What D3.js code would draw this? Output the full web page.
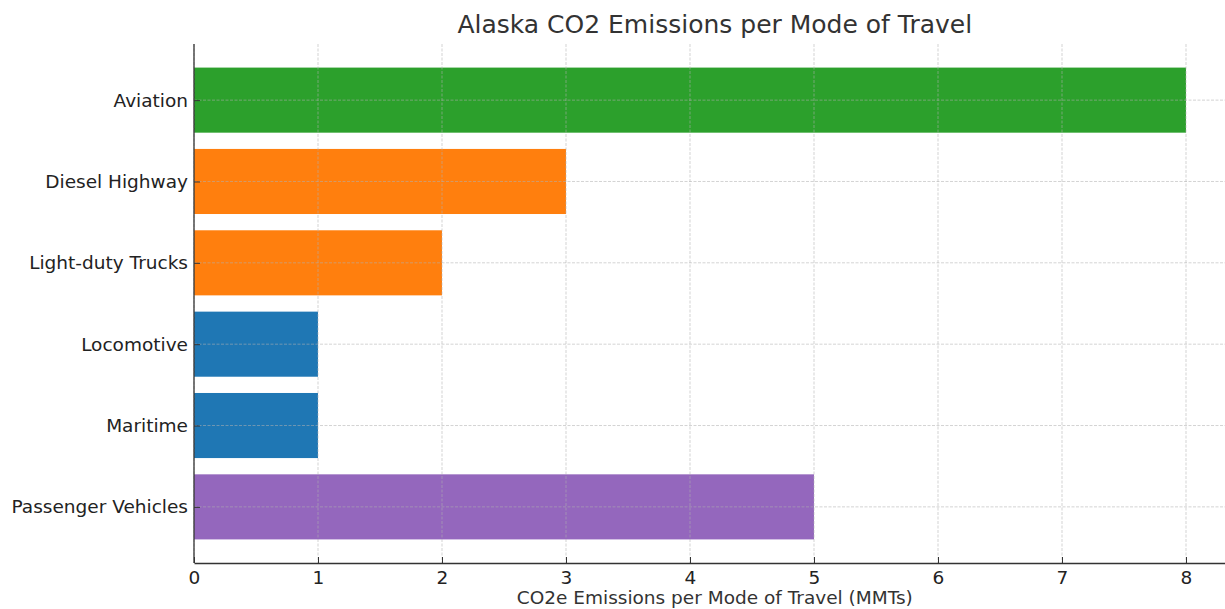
<!DOCTYPE html>
<html>
<head>
<meta charset="utf-8">
<script src="https://cdn.jsdelivr.net/npm/d3@7"></script>
<style>
  html, body { margin: 0; padding: 0; background: #fff; }
  svg { display: block; font-family: "DejaVu Sans", sans-serif; }
</style>
</head>
<body>
<svg id="chart" width="1225" height="609"></svg>
<script>
// Travel modes (top to bottom) and their CO2e emissions in MMTs
const modes = ["Aviation", "Diesel Highway", "Light-duty Trucks", "Locomotive", "Maritime", "Passenger Vehicles"];
const emissions = [8, 3, 2, 1, 1, 5];
const barColors = ["#2ca02c", "#ff7f0e", "#ff7f0e", "#1f77b4", "#1f77b4", "#9467bd"];
const xTicks = [0, 1, 2, 3, 4, 5, 6, 7, 8];

const titleText = "Alaska CO2 Emissions per Mode of Travel";
const xLabelText = "CO2e Emissions per Mode of Travel (MMTs)";

const svg = d3.select("#chart");
const plot = { left: 194, top: 44, bottom: 563, right: 1235.6 };

const x = d3.scaleLinear().domain([0, 8.4]).range([plot.left, plot.right]);
// category index -> vertical position, with padding like a standard barh layout
const y = d3.scaleLinear().domain([-0.69, 5.69]).range([plot.top, plot.bottom]);
const barH = 0.8 * (y(1) - y(0));

// bars
svg.append("g").selectAll("rect")
  .data(modes)
  .join("rect")
  .attr("x", x(0))
  .attr("y", (d, i) => y(i) - barH / 2)
  .attr("width", (d, i) => x(emissions[i]) - x(0))
  .attr("height", barH)
  .attr("fill", (d, i) => barColors[i]);

// dashed grid drawn over the bars
const grid = svg.append("g")
  .attr("stroke", "#b0b0b0")
  .attr("stroke-opacity", 0.7)
  .attr("stroke-width", 0.8)
  .attr("stroke-dasharray", "3,1.5");
grid.selectAll("line.v")
  .data(xTicks)
  .join("line")
  .attr("class", "v")
  .attr("x1", d => x(d)).attr("x2", d => x(d))
  .attr("y1", plot.top).attr("y2", plot.bottom);
grid.selectAll("line.h")
  .data(modes)
  .join("line")
  .attr("class", "h")
  .attr("x1", plot.left).attr("x2", plot.right)
  .attr("y1", (d, i) => y(i)).attr("y2", (d, i) => y(i));

const fontPx = "18.5px";

// x axis, ticks pointing inward
const xAxis = svg.append("g")
  .attr("transform", `translate(0,${plot.bottom})`)
  .call(d3.axisBottom(x).tickValues(xTicks).tickFormat(d3.format("d"))
    .tickSizeInner(-6).tickSizeOuter(0).tickPadding(8));
xAxis.select(".domain").attr("stroke", "#333").attr("stroke-width", 1.3);
xAxis.selectAll(".tick line").attr("stroke", "#333").attr("stroke-width", 1);
xAxis.selectAll(".tick text").attr("fill", "#222").style("font-size", fontPx).style("font-family", "DejaVu Sans");

// y axis, ticks pointing inward
const yAxis = svg.append("g")
  .attr("transform", `translate(${plot.left},0)`)
  .call(d3.axisLeft(y).tickValues(d3.range(modes.length)).tickFormat(i => modes[i])
    .tickSizeInner(-6).tickSizeOuter(0).tickPadding(6));
yAxis.select(".domain").remove();
yAxis.append("line")
  .attr("x1", 0).attr("x2", 0)
  .attr("y1", plot.top).attr("y2", plot.bottom)
  .attr("stroke", "#333").attr("stroke-width", 1.3);
yAxis.selectAll(".tick line").attr("stroke", "#333").attr("stroke-width", 1);
yAxis.selectAll(".tick text").attr("fill", "#222").style("font-size", fontPx).style("font-family", "DejaVu Sans");

// title
svg.append("text")
  .attr("x", (plot.left + plot.right) / 2)
  .attr("y", 33)
  .attr("text-anchor", "middle")
  .attr("fill", "#333")
  .style("font-size", "25px")
  .text(titleText);

// x axis label
svg.append("text")
  .attr("x", (plot.left + plot.right) / 2)
  .attr("y", 604)
  .attr("text-anchor", "middle")
  .attr("fill", "#333")
  .style("font-size", fontPx)
  .text(xLabelText);
</script>
</body>
</html>
